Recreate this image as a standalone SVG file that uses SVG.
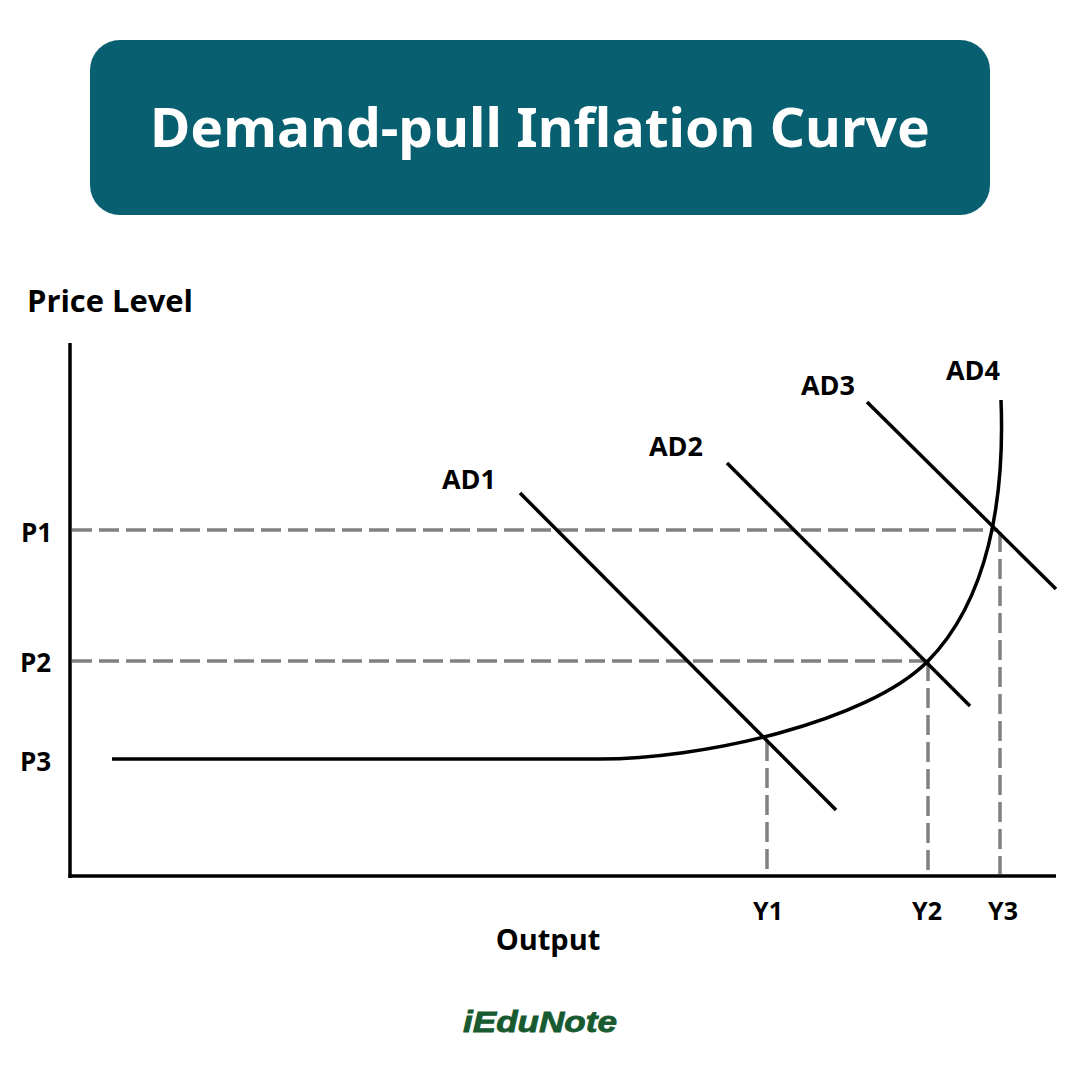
<svg xmlns="http://www.w3.org/2000/svg" width="1080" height="1080" viewBox="0 0 1080 1080">
<style>
.lbl{font-family:"Open Sans","Noto Sans","Liberation Sans",sans-serif;font-weight:700;fill:#000}
.dash{stroke:#808080;stroke-width:3.5;stroke-dasharray:20 7;fill:none}
.ln{stroke:#000;stroke-width:3.5;fill:none}
</style>
<rect width="1080" height="1080" fill="#fff"/>
<g id="title">
<rect x="90" y="40" width="900" height="175" rx="30" fill="#075F6F"/>
<text x="540" y="147" text-anchor="middle" font-family="'Noto Sans','Open Sans',sans-serif" font-weight="700" font-size="54" fill="#fff" textLength="780" lengthAdjust="spacingAndGlyphs">Demand-pull Inflation Curve</text>
</g>
<g id="axes">
<line class="ln" x1="70" y1="343" x2="70" y2="878"/>
<line class="ln" x1="68.5" y1="876" x2="1056" y2="876"/>
<text class="lbl" x="27" y="312" font-size="30" textLength="166" lengthAdjust="spacingAndGlyphs">Price Level</text>
<text class="lbl" x="548" y="950" font-size="29" text-anchor="middle">Output</text>
</g>
<g id="connectors">
<line class="dash" x1="72" y1="530" x2="998" y2="530"/>
<line class="dash" x1="72" y1="661" x2="928" y2="661"/>
<line class="dash" x1="767" y1="741" x2="767" y2="874"/>
<line class="dash" x1="928" y1="661" x2="928" y2="874"/>
<line class="dash" x1="1000" y1="532" x2="1000" y2="874"/>
</g>
<g id="supply-curve">
<path class="ln" d="M112 759 L595 759 C700 760 868 722 928 661 C988 600 1005 500 1001 400"/>
<text class="lbl" x="973" y="380" font-size="27" text-anchor="middle">AD4</text>
</g>
<g id="ad1">
<line class="ln" x1="520" y1="493" x2="836" y2="810"/>
<text class="lbl" x="469" y="489" font-size="27" text-anchor="middle">AD1</text>
</g>
<g id="ad2">
<line class="ln" x1="727" y1="463" x2="970" y2="706"/>
<text class="lbl" x="676" y="456" font-size="27" text-anchor="middle">AD2</text>
</g>
<g id="ad3">
<line class="ln" x1="867" y1="402" x2="1056" y2="589"/>
<text class="lbl" x="828" y="395" font-size="27" text-anchor="middle">AD3</text>
</g>
<g id="p-labels">
<text class="lbl" x="21" y="542" font-size="26">P1</text>
<text class="lbl" x="20" y="672" font-size="26">P2</text>
<text class="lbl" x="20" y="771" font-size="26">P3</text>
</g>
<g id="y-labels">
<text class="lbl" x="768" y="920" font-size="25" text-anchor="middle">Y1</text>
<text class="lbl" x="927" y="920" font-size="25" text-anchor="middle">Y2</text>
<text class="lbl" x="1003" y="920" font-size="25" text-anchor="middle">Y3</text>
</g>
<g id="logo">
<text x="540" y="1032" text-anchor="middle" font-family="'Liberation Sans',Arial,sans-serif" font-weight="700" font-style="italic" font-size="29" fill="#175A30" stroke="#175A30" stroke-width="0.8" textLength="154" lengthAdjust="spacingAndGlyphs">iEduNote</text>
</g>
</svg>
